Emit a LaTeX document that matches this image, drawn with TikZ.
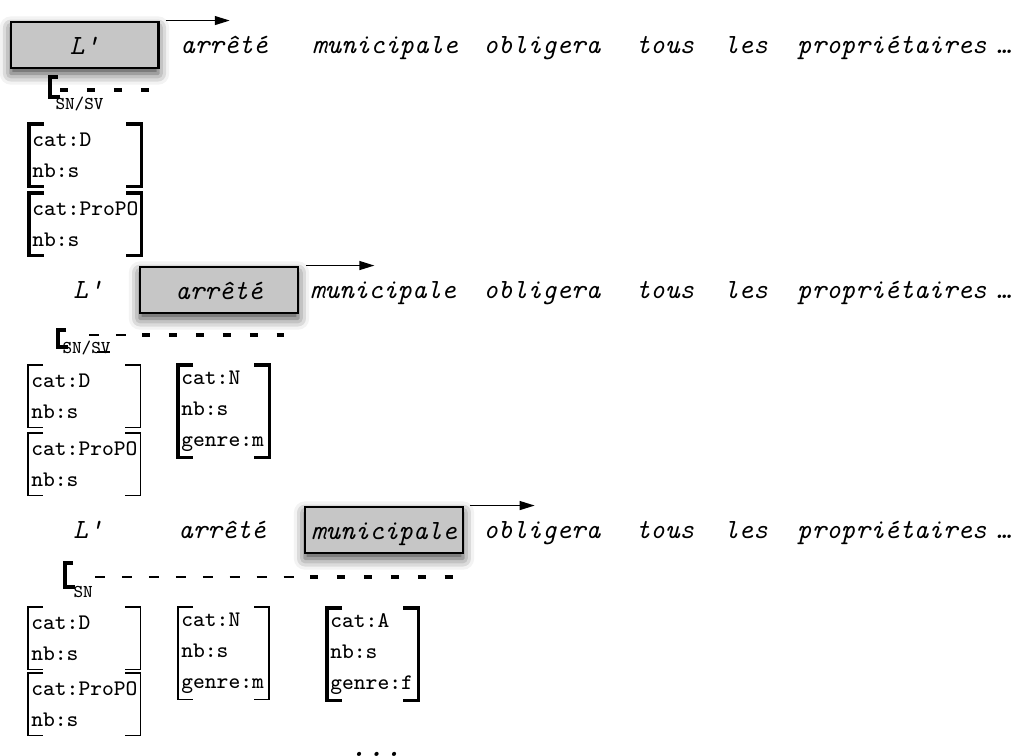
\documentclass[tikz,border=0pt]{standalone}
\usepackage{tikz}
\usetikzlibrary{arrows.meta, positioning, shadows.blur}

\begin{document}
\begin{tikzpicture}[
  x=0.36pt, y=-0.36pt,
  every node/.style={inner sep=0pt},
  word/.style={font=\ttfamily\itshape, anchor=base},
  cur/.style={draw, line width=1pt, fill=gray!45, minimum height=16.6pt,
    text height=8pt, text depth=1.5pt, font=\ttfamily\itshape,
    blur shadow={shadow xshift=0pt, shadow yshift=-2pt, shadow blur radius=4pt, shadow opacity=75}},
  arr/.style={-{Triangle[length=5.4pt, width=3.2pt]}, line width=0.55pt},
  avm/.style={anchor=north west, align=left, inner xsep=1pt, font=\fontsize{8}{11.2}\selectfont\ttfamily},
  avmD/.style={avm, text width=38pt, minimum height=22pt},
  avmN/.style={avm, text width=30.4pt, minimum height=33pt},
  brthin/.style={line width=0.45pt},
  brthick/.style={line width=1.1pt},
  lbr/.style={line width=1.1pt},
  sub/.style={font=\fontsize{6.5}{7}\selectfont\ttfamily, anchor=west},
  olddash/.style={line width=0.55pt, dash pattern=on 3.6pt off 6.1pt},
  newdash/.style={line width=1.4pt, dash pattern=on 2.9pt off 6.8pt},
]
\useasboundingbox (0,0) rectangle (1021,756);

% row 1 : L'
\node[cur, minimum width=53pt] (box1) at (84.5,45) {L'};
\node[word] (arr1) at (224,54) {arrêté};
\node[word] (mun1) at (385,54) {municipale};
\coordinate (end1) at ([xshift=25.3pt]box1.north east);
\draw[arr] ([xshift=2.2pt]box1.north east) -- (end1);

% row 2 : arrêté
\node[word] (l2) at (88,299) {L'};
\node[cur, minimum width=56.9pt] (box2) at (219,290) {arrêté};
\node[word] (mun2) at (383,299) {municipale};
\coordinate (end2) at ([xshift=27pt]box2.north east);
\draw[arr] ([xshift=2.5pt]box2.north east) -- (end2);

% row 3 : municipale
\node[word] (l3) at (88,539) {L'};
\node[word] (arr3) at (222,539) {arrêté};
\node[cur, minimum width=56.9pt] (box3) at (384,530) {municipale};
\coordinate (end3) at ([xshift=25.3pt]box3.north east);
\draw[arr] ([xshift=2pt]box3.north east) -- (end3);

% rest of the sentence
\foreach \r/\y in {1/54, 2/299, 3/539}
  \foreach \w/\x/\n in {obligera/542/obl, tous/665/tous, les/746/les, propriétaires/892/prop, …/1004/dots}
    \node[word] (\n\r) at (\x,\y) {\w};

% spans
\node[sub] (sub1) at (55,104) {SN/SV};
\draw[lbr] (58,77) -| (50,97) -- (60,97);
\draw[newdash] (60,90) -- (150,90);

\node[sub] (sub2) at (62,348) {SN/SV};
\draw[lbr] (66,330) -| (58,347) -- (68,347);
\draw[olddash] (89,335) -- (127,335);
\draw[line width=0.55pt] (97,352) -- (110,352);
\draw[newdash] (142,335) -- (284,335);

\node[sub] (sub3) at (73,592) {SN};
\draw[lbr] (73,563) -| (65,587) -- (75,587);
\draw[olddash] (95,577) -- (295,577);
\draw[newdash] (310,577) -- (455,577);

% feature structures
\node[avmD] (d1) at (29,124) {cat:D\\nb:s};
\node[avmD] (p1) at (29,193) {cat:ProPO\\nb:s};

\node[avmD] (d2) at (28,365) {cat:D\\nb:s};
\node[avmD] (p2) at (28,433) {cat:ProPO\\nb:s};
\node[avmN] (n2) at (178,365) {cat:N\\nb:s\\genre:m};

\node[avmD] (d3) at (28,607) {cat:D\\nb:s};
\node[avmD] (p3) at (28,673) {cat:ProPO\\nb:s};
\node[avmN] (n3) at (178,607) {cat:N\\nb:s\\genre:m};
\node[avmN] (a3) at (327,608) {cat:A\\nb:s\\genre:f};

\foreach \n/\s in {d1/brthick, p1/brthick, d2/brthin, p2/brthin, n2/brthick,
                   d3/brthin, p3/brthin, n3/brthin, a3/brthick} {
  \draw[\s] ([xshift=5.4pt]\n.north west) -| (\n.south west) -- ++(5.4pt,0);
  \draw[\s] ([xshift=-5.4pt]\n.north east) -| (\n.south east) -- ++(-5.4pt,0);
}

\node[word, font=\fontsize{12}{14}\selectfont\ttfamily\itshape] (more) at (376,757) {...};

\end{tikzpicture}
\end{document}
